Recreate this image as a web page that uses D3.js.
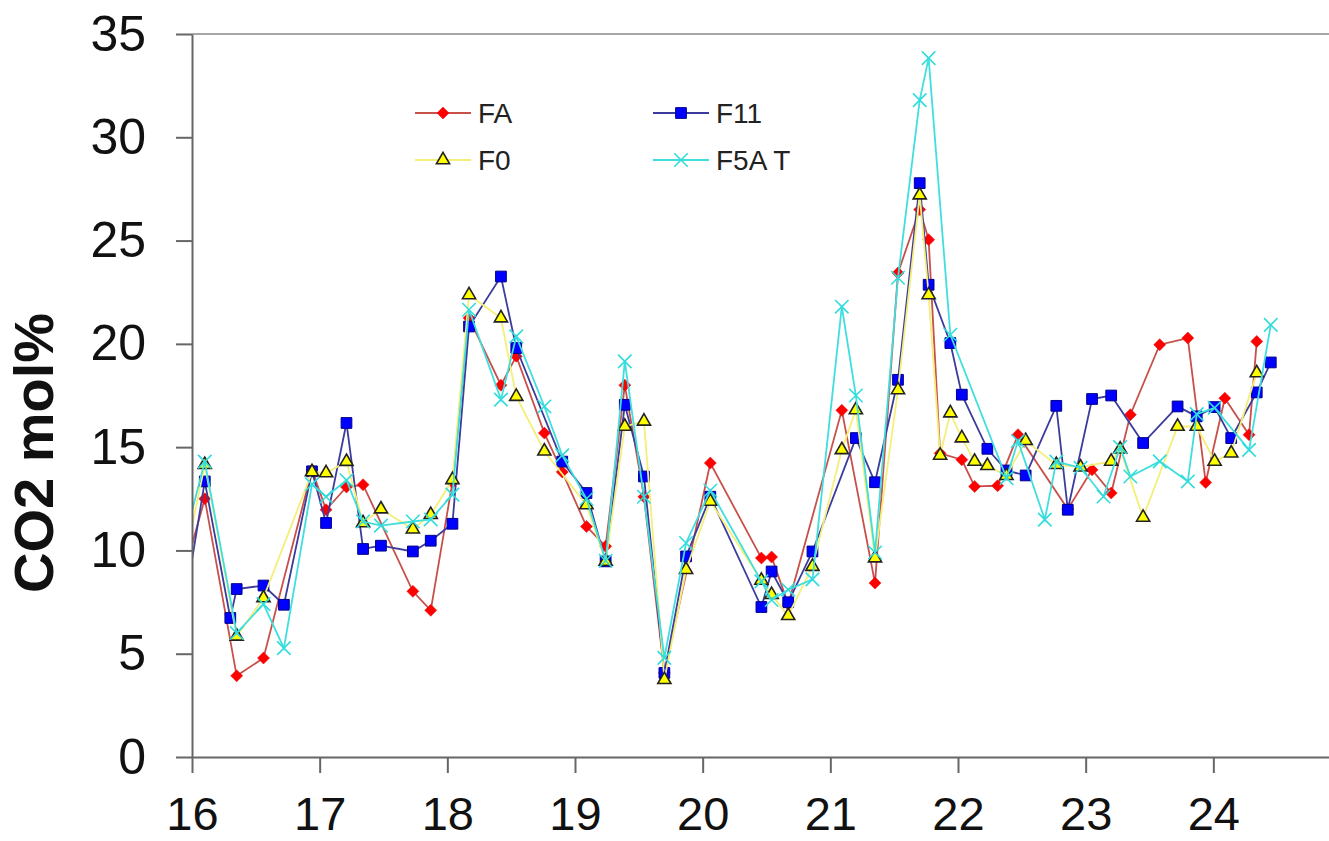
<!DOCTYPE html>
<html>
<head>
<meta charset="utf-8">
<script src="https://cdn.jsdelivr.net/npm/d3@7"></script>
<style>
  body { margin: 0; background: #fff; }
  text { font-family: "Liberation Sans", Arial, sans-serif; }
</style>
</head>
<body>
<div id="chart"></div>
<script>
// sampling times (day) shared by all series; null = no sample for that series
// first sample sits just left of the axis, so only its line shows
const days = [15.92, 16.10, 16.30, 16.35, 16.56, 16.72, 16.94, 17.05, 17.21, 17.34,
  17.48, 17.73, 17.87, 18.04, 18.17, 18.42, 18.54, 18.76, 18.90, 19.09,
  19.24, 19.39, 19.54, 19.70, 19.87, 20.06, 20.46, 20.54, 20.67, 20.86,
  21.09, 21.20, 21.35, 21.53, 21.70, 21.77, 21.86, 21.94, 22.03, 22.13,
  22.23, 22.31, 22.38, 22.47, 22.53, 22.68, 22.77, 22.86, 22.96, 23.05,
  23.14, 23.20, 23.27, 23.35, 23.45, 23.58, 23.72, 23.80, 23.87, 23.94,
  24.01, 24.09, 24.14, 24.28, 24.34, 24.45];

const fa = [8.5, 12.5, null, 3.93, 4.79, null, 13.9, 11.97, 13.07, 13.18,
  null, 8.02, 7.1, 13.3, 21.25, 18.0, 19.4, 15.68, 13.8, 11.16,
  10.2, 18.0, 12.6, 4.07, null, 14.23, 9.63, 9.68, 7.4, null,
  16.78, null, 8.42, 23.43, 26.5, 25.04, 14.7, null, 14.39, 13.1,
  null, 13.13, null, 15.6, null, null, null, 12.0, null, 13.9,
  null, 12.78, null, 16.57, null, 19.96, null, 20.28, null, 13.29,
  null, 17.37, null, 15.6, 20.12, null];

const f11 = [6.5, 13.34, 6.73, 8.13, 8.3, 7.37, 13.83, 11.33, 16.17, 10.07,
  10.23, 9.95, 10.47, 11.29, 20.84, 23.26, 19.8, null, 14.3, 12.78,
  9.47, 17.05, 13.58, 4.07, 9.71, 12.6, 7.26, 8.98, 7.49, 9.95,
  null, 15.44, 13.3, 18.26, 27.78, 22.86, null, 20.04, 17.54, null,
  14.92, null, 13.87, null, 13.63, null, 17.0, 11.97, null, 17.33,
  null, 17.5, null, null, 15.2, null, 16.97, null, 16.49, null,
  16.94, null, 15.44, null, 17.65, 19.1];

const f0 = [8.8, 14.15, null, 5.84, 7.7, null, 13.8, 13.75, 14.3, 11.33,
  12.0, 11.03, 11.73, 13.42, 22.37, 21.25, 17.45, 14.8, null, 12.2,
  9.47, 16.0, 16.25, 3.74, 9.07, 12.37, 8.55, 7.86, 6.84, 9.22,
  14.87, 16.8, 9.63, 17.77, 27.2, 22.37, 14.6, 16.65, 15.44, 14.31,
  14.1, null, 13.62, null, 15.31, null, 14.15, null, 14.03, null,
  null, 14.31, 14.9, null, 11.6, null, 16.0, null, 16.0, null,
  14.31, null, 14.71, null, 18.59, null];

const f5at = [10.0, 14.3, null, 6.0, 7.4, 5.27, 13.2, 12.6, 13.4, 11.4,
  11.2, 11.4, 11.5, 12.7, 21.65, 17.3, 20.36, 16.97, 14.6, 12.5,
  9.5, 19.15, 12.6, 4.8, 10.36, 12.9, 8.5, 7.6, 8.1, 8.6,
  21.8, 17.5, 9.9, 23.2, 31.8, 33.83, null, 20.44, null, null,
  null, null, 13.5, 15.3, null, 11.49, 14.3, null, 14.0, null,
  12.61, null, 15.0, 13.58, null, 14.31, null, 13.34, 16.6, null,
  16.9, null, null, 14.87, null, 20.92];

const xTicks = [16, 17, 18, 19, 20, 21, 22, 23, 24];
const yTicks = [0, 5, 10, 15, 20, 25, 30, 35];
const yTitle = "CO2 mol%";

const W = 1329, H = 841;

const svg = d3.select("#chart")
  .append("svg")
  .attr("width", W)
  .attr("height", H);

const x = d3.scaleLinear()
  .domain([16, 25])
  .range([192, 1341]);

const y = d3.scaleLinear()
  .domain([0, 35])
  .range([757, 34]);

// clip marks to the plot area
svg.append("clipPath")
  .attr("id", "plotClip")
  .append("rect")
  .attr("x", x(16) + 1)
  .attr("y", 0)
  .attr("width", W - x(16))
  .attr("height", y(0));

// top frame line
svg.append("line")
  .attr("x1", x(16)).attr("x2", W)
  .attr("y1", y(35)).attr("y2", y(35))
  .attr("stroke", "#8a8a8a")
  .attr("stroke-width", 1.5);

// series definitions
const series = [
  { name: "FA", values: fa, line: "#c8504a", symbol: d3.symbolSquare, size: 72, rotate: 45,
    fill: "#ff0000", stroke: "#e01010", sw: 0.5 },
  { name: "F11", values: f11, line: "#3c3c9c", symbol: d3.symbolSquare, size: 115, rotate: 0,
    fill: "#0000ff", stroke: "#00008a", sw: 1 },
  { name: "F0", values: f0, line: "#f4ef78", symbol: d3.symbolTriangle, size: 75, rotate: 0,
    fill: "#ffff00", stroke: "#222", sw: 1.6 },
  { name: "F5AT", values: f5at, line: "#40dede", symbol: d3.symbolTimes || d3.symbolX, size: 120, rotate: 0,
    fill: "none", stroke: "#30dcdc", sw: 1.6 }
];

const line = d3.line()
  .x(d => x(d.t))
  .y(d => y(d.v));

series.forEach(function (s) {
  s.pts = days.map((t, i) => ({ t: t, v: s.values[i] })).filter(d => d.v !== null);
});

const plot = svg.append("g").attr("clip-path", "url(#plotClip)");

// lines then markers, series in order
series.forEach(function (s) {
  plot.append("path")
    .datum(s.pts)
    .attr("fill", "none")
    .attr("stroke", s.line)
    .attr("stroke-width", 1.8)
    .attr("d", line);
  plot.append("g")
    .selectAll("path")
    .data(s.pts)
    .enter()
    .append("path")
    .attr("transform", d => `translate(${x(d.t)},${y(d.v)}) rotate(${s.rotate})`)
    .attr("d", d3.symbol().type(s.symbol).size(s.size))
    .attr("fill", s.fill)
    .attr("stroke", s.stroke)
    .attr("stroke-width", s.sw);
});

// Y axis
const yAxis = svg.append("g")
  .attr("transform", `translate(${x(16)},0)`)
  .call(d3.axisLeft(y).tickValues(yTicks).tickSize(16).tickSizeOuter(0).tickPadding(30));

// X axis
const xAxis = svg.append("g")
  .attr("transform", `translate(0,${y(0)})`)
  .call(d3.axisBottom(x).tickValues(xTicks).tickSize(16).tickSizeOuter(0).tickPadding(24));

[xAxis, yAxis].forEach(function (g) {
  g.select(".domain").attr("stroke", "#666").attr("stroke-width", 2);
  g.selectAll(".tick line").attr("stroke", "#666").attr("stroke-width", 2);
  g.selectAll(".tick text")
    .attr("fill", "#111")
    .style("font-family", "'Liberation Sans', Arial, sans-serif");
});
yAxis.selectAll(".tick text").style("font-size", "50px");
xAxis.selectAll(".tick text").style("font-size", "47px");

// Y title
svg.append("text")
  .attr("transform", `translate(53,453) rotate(-90)`)
  .attr("text-anchor", "middle")
  .style("font-size", "56px")
  .style("font-weight", "bold")
  .attr("fill", "#111")
  .text(yTitle);

// legend
const legendPos = [
  { x: 415, y: 113 },
  { x: 653, y: 113 },
  { x: 415, y: 160 },
  { x: 653, y: 160 }
];

const legend = svg.append("g")
  .selectAll("g")
  .data(series)
  .enter()
  .append("g")
  .attr("transform", (d, i) => `translate(${legendPos[i].x},${legendPos[i].y})`);

legend.append("line")
  .attr("x1", 0).attr("x2", 56)
  .attr("y1", 0).attr("y2", 0)
  .attr("stroke", d => d.line)
  .attr("stroke-width", 1.8);

legend.append("path")
  .attr("transform", d => `translate(28,0) rotate(${d.rotate})`)
  .attr("d", d => d3.symbol().type(d.symbol).size(d.size)())
  .attr("fill", d => d.fill)
  .attr("stroke", d => d.stroke)
  .attr("stroke-width", d => d.sw);

const lt = legend.append("text")
  .attr("x", 63)
  .attr("y", 10)
  .style("font-size", "28px")
  .attr("fill", "#222");

lt.each(function (d) {
  const t = d3.select(this);
  if (d.name === "F5AT") {
    t.append("tspan").text("F5A");
    t.append("tspan").attr("dx", 8).text("T");
  } else {
    t.text(d.name);
  }
});
</script>
</body>
</html>
